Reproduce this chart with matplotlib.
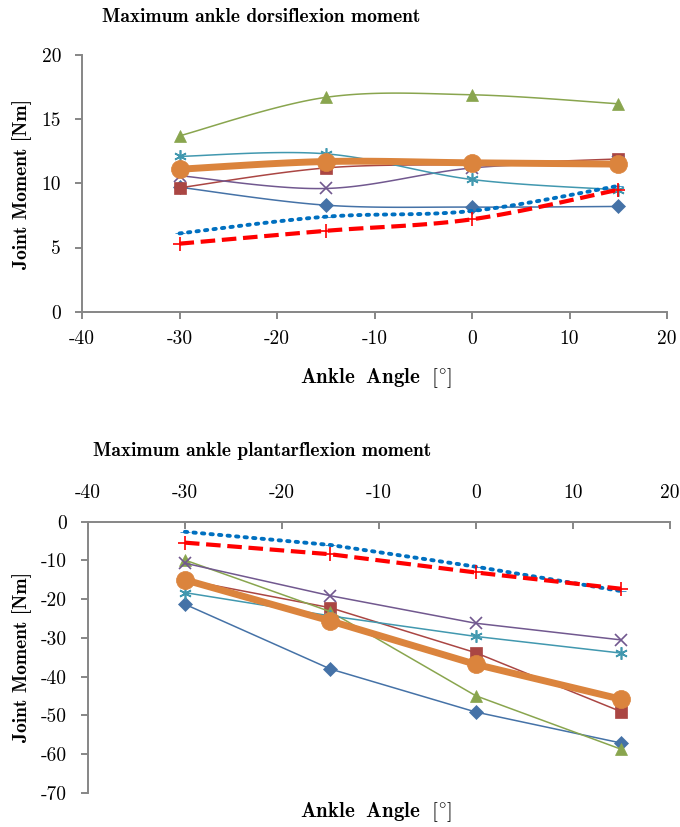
import numpy as np
import matplotlib
matplotlib.use("Agg")
import matplotlib.pyplot as plt

plt.rcParams['font.family'] = ['cmr10', 'DejaVu Serif']
plt.rcParams['axes.unicode_minus'] = False
plt.rcParams['mathtext.fontset'] = 'cm'

angles = [-30, -15, 0, 15]

# Dorsiflexion (top)
dors_blue = [9.7, 8.3, 8.15, 8.2]
dors_brown = [9.65, 11.2, 11.5, 11.9]
dors_green = [13.7, 16.7, 16.9, 16.2]
dors_purple = [10.6, 9.6, 11.2, 11.7]
dors_cyan = [12.1, 12.3, 10.3, 9.5]
dors_orange = [11.1, 11.7, 11.6, 11.5]
dors_dotted = [6.1, 7.4, 7.85, 9.8]
dors_dashed = [5.3, 6.3, 7.2, 9.5]

# Plantarflexion (bottom)
plant_blue = [-21.3, -38.0, -49.1, -57.1]
plant_brown = [-15.0, -22.2, -33.8, -49.0]
plant_green = [-9.9, -23.2, -44.9, -58.7]
plant_purple = [-10.7, -19.1, -26.2, -30.5]
plant_cyan = [-18.3, -24.3, -29.6, -33.9]
plant_orange = [-15.0, -25.6, -36.8, -45.8]
plant_dotted = [-2.6, -6.0, -11.6, -17.9]
plant_dashed = [-5.4, -8.4, -13.1, -17.3]

x_ticks = [-40, -30, -20, -10, 0, 10, 20]
top_yticks = [0, 5, 10, 15, 20]
bot_yticks = [0, -10, -20, -30, -40, -50, -60, -70]

C_BLUE = '#4572A7'
C_BROWN = '#AA4643'
C_GREEN = '#89A54E'
C_PURPLE = '#71588F'
C_CYAN = '#4198AF'
C_ORANGE = '#DB843D'
C_DOT = '#0070C0'
C_DASH = '#FF0000'
AXC = '#868686'

W, H = 680, 827


def smooth(x, y, n=30):
    x = np.asarray(x, float)
    y = np.asarray(y, float)
    P = np.column_stack([x, y])
    Pe = np.vstack([P[0], P, P[-1]])
    out = []
    t = np.linspace(0, 1, n)[:, None]
    for i in range(len(P) - 1):
        p0, p3 = P[i], P[i + 1]
        p1 = p0 + (Pe[i + 2] - Pe[i]) / 6.0
        p2 = p3 - (Pe[i + 3] - Pe[i + 1]) / 6.0
        seg = (1 - t) ** 3 * p0 + 3 * (1 - t) ** 2 * t * p1 + 3 * (1 - t) * t ** 2 * p2 + t ** 3 * p3
        out.append(seg if i == 0 else seg[1:])
    s = np.vstack(out)
    return s[:, 0], s[:, 1]


fig = plt.figure(figsize=(W / 100, H / 100), dpi=100)
ax1 = fig.add_axes([82 / W, 1 - 311.7 / H, 585 / W, 256.7 / H])
ax2 = fig.add_axes([88 / W, 1 - 793 / H, 581.5 / W, 271.3 / H])


def draw(ax, series, do_smooth):
    for y, color, marker, ms, lw, ls in series:
        if do_smooth:
            sx, sy = smooth(angles, y)
        else:
            sx, sy = angles, y
        if ls == 'dot':
            ax.plot(sx, sy, color=color, lw=2.8, linestyle=(0, (0.6, 1.6)),
                    dash_capstyle='round', zorder=3)
        elif ls == 'dash':
            ax.plot(sx, sy, color=color, lw=3.0, linestyle=(0, (3.5, 1.6)), zorder=3)
        else:
            ax.plot(sx, sy, color=color, lw=lw, zorder=3 if lw < 3 else 4)
        ax.plot(angles, y, linestyle='none', marker=marker, markersize=ms,
                color=color, markeredgecolor=color,
                markeredgewidth=1.2 if marker in ('x', '+') or isinstance(marker, tuple) else 0.5,
                zorder=3 if lw < 3 else 4)


def series_list(b, br, g, p, c, o, dt, ds):
    return [
        (b, C_BLUE, 'D', 7, 1.1, '-'),
        (br, C_BROWN, 's', 8, 1.1, '-'),
        (g, C_GREEN, '^', 8.5, 1.1, '-'),
        (p, C_PURPLE, 'x', 8, 1.1, '-'),
        (c, C_CYAN, (6, 2, 0), 9, 1.1, '-'),
        (dt, C_DOT, '_', 7, 1.1, 'dot'),
        (ds, C_DASH, '+', 10, 1.1, 'dash'),
        (o, C_ORANGE, 'o', 13, 5.0, '-'),
    ]


draw(ax1, series_list(dors_blue, dors_brown, dors_green, dors_purple, dors_cyan,
                      dors_orange, dors_dotted, dors_dashed), True)
draw(ax2, series_list(plant_blue, plant_brown, plant_green, plant_purple, plant_cyan,
                      plant_orange, plant_dotted, plant_dashed), False)

for ax in (ax1, ax2):
    ax.set_xlim(-40, 20)
    ax.set_xticks(x_ticks)
    ax.set_xticklabels([str(v) for v in x_ticks])
    for s in ('top', 'right'):
        ax.spines[s].set_visible(False)
    for s in ('left', 'bottom', 'top'):
        ax.spines[s].set_color(AXC)
        ax.spines[s].set_linewidth(1.4)
    ax.tick_params(colors=AXC, labelcolor='black', labelsize=14, width=1.4, length=5)

ax1.set_ylim(0, 20)
ax1.set_yticks(top_yticks)
ax1.set_yticklabels([str(v) for v in top_yticks])
ax1.tick_params(axis='x', direction='out', pad=8)
ax1.tick_params(axis='y', direction='out', pad=10)

ax2.set_ylim(-70, 0)
ax2.set_yticks(bot_yticks)
ax2.set_yticklabels([str(v) for v in bot_yticks])
ax2.spines['bottom'].set_visible(False)
ax2.spines['top'].set_visible(True)
ax2.xaxis.set_ticks_position('top')
ax2.tick_params(axis='x', direction='in', pad=14)
ax2.tick_params(axis='y', direction='out', pad=10)

lab_font = dict(family=['cmb10', 'DejaVu Serif'], fontsize=14)
xlab = r'$\mathbf{Ankle\ \ Angle}\ \ [^{\circ}]$'
fig.text(22 / W, 1 - 184 / H, 'Joint Moment [Nm]', rotation=90, ha='center', va='center', **lab_font)
fig.text(22 / W, 1 - 657 / H, 'Joint Moment [Nm]', rotation=90, ha='center', va='center', **lab_font)
fig.text(376 / W, 1 - 378 / H, xlab, ha='center', va='center', fontsize=15)
fig.text(376 / W, 1 - 812 / H, xlab, ha='center', va='center', fontsize=15)

title_font = dict(family=['cmb10', 'DejaVu Serif'], fontsize=14)
fig.text(261 / W, 1 - 17 / H, 'Maximum ankle dorsiflexion moment', ha='center', va='center', **title_font)
fig.text(262 / W, 1 - 451 / H, 'Maximum ankle plantarflexion moment', ha='center', va='center', **title_font)

fig.savefig('out.png', dpi=100)
